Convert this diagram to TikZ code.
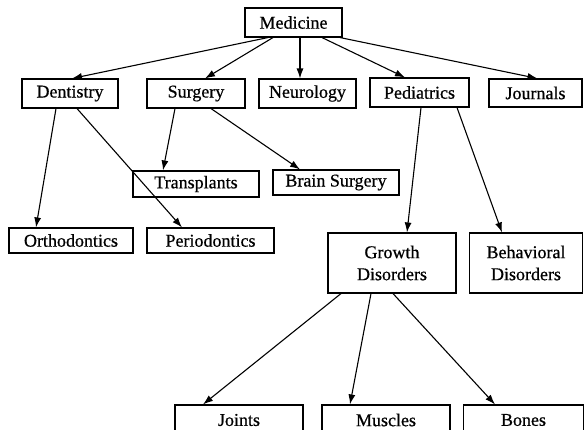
\documentclass[tikz,border=0pt]{standalone}
\usepackage{fontspec}
\setmainfont{Liberation Serif}[FakeBold=0.6]
\usetikzlibrary{arrows.meta}
\begin{document}
\begin{tikzpicture}[x=1pt,y=-1pt,
  box/.style={draw,line width=1.1pt,inner sep=0pt,align=center,font=\fontsize{18}{22}\selectfont},
  arr/.style={line width=1.1pt,-{Latex[length=10pt,width=7pt]}}]
\useasboundingbox (0,0) rectangle (584,429);
\begin{scope}
\clip (0,0) rectangle (584,429);
\node[box,minimum width=97pt,minimum height=29pt] (med) at (293.5,22.5) {Medicine};
\node[box,minimum width=96pt,minimum height=29pt] (den) at (70,93.5) {Dentistry};
\node[box,minimum width=98pt,minimum height=29pt] (sur) at (196,93.5) {Surgery};
\node[box,minimum width=97pt,minimum height=29pt] (neu) at (307.5,93.5) {Neurology};
\node[box,minimum width=99pt,minimum height=29pt] (ped) at (419.5,92.5) {Pediatrics};
\node[box,minimum width=93pt,minimum height=28pt] (jou) at (535.5,93) {Journals};
\node[box,minimum width=126pt,minimum height=26pt] (tra) at (196,184) {Transplants};
\node[box,minimum width=126pt,minimum height=25pt] (bra) at (336,182.5) {Brain Surgery};
\node[box,minimum width=124pt,minimum height=25pt] (ort) at (71,240.5) {Orthodontics};
\node[box,minimum width=127pt,minimum height=25pt] (per) at (210.5,240.5) {Periodontics};
\node[box,minimum width=128pt,minimum height=60pt] (gro) at (392,263) {Growth\\Disorders};
\node[box,minimum width=113pt,minimum height=60pt] (beh) at (526,263) {Behavioral\\Disorders};
\node[box,minimum width=128pt,minimum height=30pt] (joi) at (239,420) {Joints};
\node[box,minimum width=128pt,minimum height=30pt] (mus) at (386,420) {Muscles};
\node[box,minimum width=120pt,minimum height=30pt] (bon) at (523.5,420) {Bones};
\end{scope}
\draw[arr] ([xshift=-25.5pt]med.south) -- ([xshift=2pt]den.north);
\draw[arr] ([xshift=-20.5pt]med.south) -- ([xshift=9pt]sur.north);
\draw[arr] ([xshift=6.5pt]med.south) -- ([xshift=-7.5pt]neu.north);
\draw[arr] ([xshift=28.5pt]med.south) -- ([xshift=-14.5pt]ped.north);
\draw[arr] ([xshift=46.5pt]med.south) -- ([xshift=2pt]jou.north);
\draw[arr] ([xshift=-14pt]den.south) -- ([xshift=-35pt]ort.north);
\draw[arr] ([xshift=7pt]den.south) -- ([xshift=-28.5pt]per.north);
\draw[arr] ([xshift=-21pt]sur.south) -- ([xshift=-33pt]tra.north);
\draw[arr] ([xshift=15pt]sur.south) -- ([xshift=-36pt]bra.north);
\draw[arr] ([xshift=1.5pt]ped.south) -- ([xshift=15pt]gro.north);
\draw[arr] ([xshift=37.5pt]ped.south) -- ([xshift=-24pt]beh.north);
\draw[arr] ([xshift=-51pt]gro.south) -- ([xshift=-36pt]joi.north);
\draw[arr] ([xshift=-21pt]gro.south) -- ([xshift=-36pt]mus.north);
\draw[arr] ([xshift=1pt]gro.south) -- ([xshift=-28.5pt]bon.north);
\end{tikzpicture}
\end{document}
